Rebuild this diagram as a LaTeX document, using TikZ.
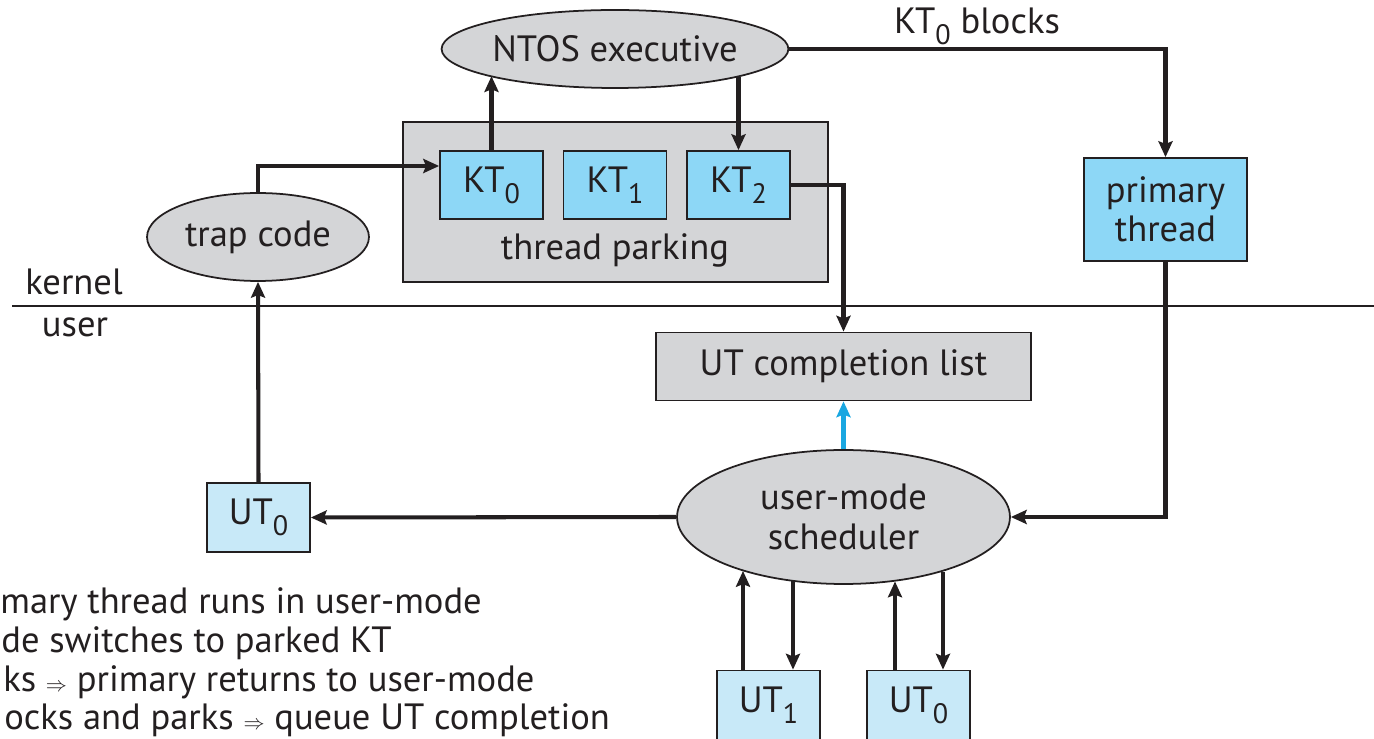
\documentclass[tikz,border=0pt]{standalone}
\usepackage{fontspec}
\setmainfont{PT Sans}
\usetikzlibrary{shapes.geometric,arrows.meta}
\definecolor{ktblue}{HTML}{8DD7F6}
\definecolor{utblue}{HTML}{C8E9F8}
\definecolor{boxgray}{HTML}{D4D5D7}
\definecolor{arrowblue}{HTML}{1AA7E1}
\definecolor{ink}{HTML}{231F20}
\newcommand{\lsub}[1]{\raisebox{-0.3em}{\fontsize{16}{16}\selectfont #1}}
\begin{document}
\begin{tikzpicture}[x=0.02cm,y=-0.02cm,
  font=\fontsize{20.8}{24}\selectfont,
  every node/.style={text=ink},
  box/.style={draw=ink, line width=1pt, inner sep=0pt, anchor=center},
  kt/.style={box, fill=ktblue, minimum width=2.06cm, minimum height=1.36cm},
  ut/.style={box, fill=utblue, minimum width=2.06cm, minimum height=1.38cm},
  graybox/.style={box, fill=boxgray},
  oval/.style={box, ellipse, fill=boxgray},
  conn/.style={draw=ink, line width=2.3pt, -{Stealth[length=9pt,width=8pt,inset=1.5pt]}},
  blueconn/.style={conn, draw=arrowblue, -{Stealth[length=9pt,width=8pt,inset=1.5pt,color=arrowblue]}},
  plain/.style={inner sep=0pt},
]
\useasboundingbox (0,0) rectangle (1374,739);

% kernel/user line
\coordinate (lineL) at (12,306);
\coordinate (lineR) at (1374,306);
\draw[draw=ink, line width=1pt] (lineL) -- (lineR);
\node[plain] (kernel) at (74,282) {kernel};
\node[plain] (user) at (75,327) {user};

% kernel part
\node[oval, minimum width=6.92cm, minimum height=1.56cm] (ntos) at (615,49) {NTOS executive};
\node[graybox, minimum width=8.5cm, minimum height=3.2cm] (park) at (615.5,202) {};
\node[kt] (kt0) at (491.5,185) {KT\lsub{0}};
\node[kt] (kt1) at (615,185) {KT\lsub{1}};
\node[kt] (kt2) at (738.5,185) {KT\lsub{2}};
\node[plain] (parklbl) at (615,250) {thread parking};
\node[kt, minimum width=3.26cm, minimum height=2.06cm, align=center] (prim) at (1165.5,209.5) {primary\\[-2pt]thread};
\node[oval, minimum width=4.44cm, minimum height=1.76cm] (trap) at (258,237) {trap code};
\node[plain] (blockslbl) at (977,26) {KT\lsub{0} blocks};

% user part
\node[graybox, minimum width=7.5cm, minimum height=1.36cm] (list) at (843.5,366.5) {UT completion list};
\node[oval, minimum width=6.66cm, minimum height=2.68cm, align=center] (sched) at (843.5,517) {user-mode\\[-1pt]scheduler};
\node[ut] (utl) at (258.5,517.5) {UT\lsub{0}};
\node[ut] (ut1) at (768.5,705) {UT\lsub{1}};
\node[ut] (ut0) at (918.5,705) {UT\lsub{0}};

% connectors
\draw[conn] (kt0.north) -- (kt0.north |- ntos.192.2);
\draw[conn] (kt2.north |- ntos.347.5) -- (kt2.north);
\draw[conn] (ntos.east) -| (prim.north);
\draw[conn] (prim.south) |- (sched.east);
\draw[conn] (sched.west) -- (utl.east);
\draw[conn] (utl.north) -- (trap.south);
\draw[conn] (trap.north) |- ([yshift=0.38cm]kt0.west);
\draw[conn] (kt2.east) -| (list.north);
\draw[blueconn] (sched.north) -- (list.south);
\draw[conn] ([xshift=-0.51cm]ut1.north) -- ([xshift=-0.51cm]ut1.north |- sched.208);
\draw[conn] ([xshift=0.49cm]ut1.north |- sched.231.6) -- ([xshift=0.49cm]ut1.north);
\draw[conn] ([xshift=-0.47cm]ut0.north) -- ([xshift=-0.47cm]ut0.north |- sched.309);
\draw[conn] ([xshift=0.49cm]ut0.north |- sched.331.6) -- ([xshift=0.49cm]ut0.north);

% legend text (cut at the left edge)
\node[plain, anchor=base west] (t1) at (0,614) {mary thread runs in user-mode};
\node[plain, anchor=base west] (t2) at (1,653) {de switches to parked KT};
\node[plain, anchor=base west] (t3) at (3,692) {ks {\fontsize{13}{13}\selectfont$\Rightarrow$} primary returns to user-mode};
\node[plain, anchor=base west] (t4) at (4,730) {ocks and parks {\fontsize{13}{13}\selectfont$\Rightarrow$} queue UT completion};
\end{tikzpicture}
\end{document}
